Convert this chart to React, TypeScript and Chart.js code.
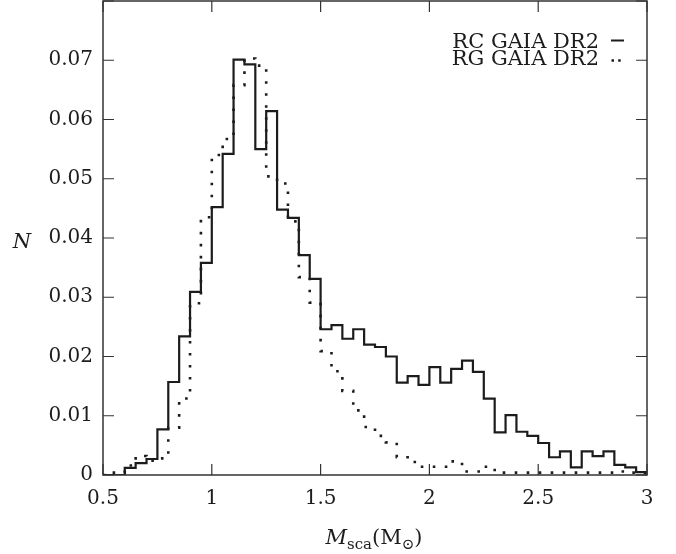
import React, { useEffect, useRef } from "react";
import { Chart, registerables } from "chart.js";

Chart.register(...registerables);

// ---- data ----
const binStart = [
  0.5, 0.55, 0.6, 0.65, 0.7, 0.75, 0.8, 0.85, 0.9, 0.95,
  1.0, 1.05, 1.1, 1.15, 1.2, 1.25, 1.3, 1.35, 1.4, 1.45,
  1.5, 1.55, 1.6, 1.65, 1.7, 1.75, 1.8, 1.85, 1.9, 1.95,
  2.0, 2.05, 2.1, 2.15, 2.2, 2.25, 2.3, 2.35, 2.4, 2.45,
  2.5, 2.55, 2.6, 2.65, 2.7, 2.75, 2.8, 2.85, 2.9, 2.95,
];
const binEnd = 3.0;

const rcValues = [
  0, 0, 0.0012, 0.002, 0.0027, 0.0077, 0.0157, 0.0234, 0.0309, 0.0358,
  0.0452, 0.0542, 0.0701, 0.0693, 0.055, 0.0614, 0.0448, 0.0434, 0.0371, 0.0331,
  0.0246, 0.0253, 0.023, 0.0246, 0.022, 0.0216, 0.02, 0.0156, 0.0167, 0.0152,
  0.0182, 0.0156, 0.0179, 0.0193, 0.0174, 0.0129, 0.0072, 0.0101, 0.0073, 0.0066,
  0.0054, 0.003, 0.004, 0.0013, 0.004, 0.0032, 0.004, 0.0017, 0.0013, 0.0005,
];

const rgValues = [
  0, 0.0004, 0.0016, 0.0032, 0.0024, 0.0028, 0.008, 0.0129, 0.029, 0.0435,
  0.054, 0.0567, 0.0658, 0.0703, 0.0691, 0.0504, 0.0492, 0.0428, 0.0334, 0.0291,
  0.0209, 0.0175, 0.0142, 0.0109, 0.0081, 0.0066, 0.0055, 0.003, 0.0022, 0.0014,
  0.0014, 0.0014, 0.0023, 0.0006, 0.0006, 0.0014, 0.0004, 0.0004, 0.0004, 0.0004,
  0.0004, 0.0004, 0.0004, 0.0004, 0.0004, 0.0004, 0.0004, 0.0006, 0.0004, 0.0003,
];

const seriesLabels = ["RC GAIA DR2", "RG GAIA DR2"];
const xMin = 0.5;
const xMax = 3;
const xStep = 0.5;
const yMin = 0;
const yMax = 0.08;
const yStep = 0.01;
const yTitle = "N";
const xTitleMain = "M";
const xTitleSub = "sca";
const xTitleUnit = "M";
const xTitleUnitSub = "\u2299";

const FONT = "'DejaVu Serif', serif";
const INK = "#1c1c1c";

function toSteps(values: number[]) {
  // point i = (bin start, bin value); with 'before' stepping the horizontal
  // segment at this value runs to the next bin start.
  const pts = binStart.map((x, i) => ({ x, y: values[i] }));
  pts.push({ x: binEnd, y: values[values.length - 1] });
  return pts;
}

const decorPlugin = {
  id: "decor",
  afterDraw(chart: any) {
    const { ctx, chartArea } = chart;
    const { left, right, top, bottom } = chartArea;
    const xs = chart.scales.x;
    const ys = chart.scales.y;
    ctx.save();
    // frame
    ctx.strokeStyle = "#333";
    ctx.lineWidth = 1.5;
    ctx.strokeRect(left, top, right - left, bottom - top);
    // inward ticks
    const tl = 11;
    ctx.lineWidth = 1.2;
    ctx.beginPath();
    xs.ticks.forEach((t: any) => {
      const px = xs.getPixelForValue(t.value);
      ctx.moveTo(px, bottom);
      ctx.lineTo(px, bottom - tl);
      ctx.moveTo(px, top);
      ctx.lineTo(px, top + tl);
    });
    ys.ticks.forEach((t: any) => {
      const py = ys.getPixelForValue(t.value);
      ctx.moveTo(left, py);
      ctx.lineTo(left + tl, py);
      ctx.moveTo(right, py);
      ctx.lineTo(right - tl, py);
    });
    ctx.stroke();

    // legend
    ctx.fillStyle = INK;
    ctx.font = `21px ${FONT}`;
    ctx.textAlign = "right";
    ctx.textBaseline = "alphabetic";
    const legX = 599;
    ctx.fillText(seriesLabels[0], legX, 48);
    ctx.fillText(seriesLabels[1], legX, 65);
    ctx.strokeStyle = INK;
    ctx.lineWidth = 2;
    ctx.beginPath();
    ctx.moveTo(611, 40.5);
    ctx.lineTo(624, 40.5);
    ctx.stroke();
    ctx.lineWidth = 2.5;
    ctx.setLineDash([2.5, 4.2]);
    ctx.beginPath();
    ctx.moveTo(611.5, 60.5);
    ctx.lineTo(624, 60.5);
    ctx.stroke();
    ctx.setLineDash([]);

    // y title
    ctx.textAlign = "center";
    ctx.font = `italic 21px ${FONT}`;
    ctx.fillText(yTitle, 22, 248);

    // x title
    const big = `21px ${FONT}`;
    const bigI = `italic 21px ${FONT}`;
    const small = `15px ${FONT}`;
    const parts = [
      { t: xTitleMain, f: bigI, dy: 0 },
      { t: xTitleSub, f: small, dy: 5 },
      { t: "(" + xTitleUnit, f: big, dy: 0 },
      { t: xTitleUnitSub, f: small, dy: 5 },
      { t: ")", f: big, dy: 0 },
    ];
    let total = 0;
    const widths = parts.map((p) => {
      ctx.font = p.f;
      const w = ctx.measureText(p.t).width;
      total += w;
      return w;
    });
    let cx = 374 - total / 2;
    ctx.textAlign = "left";
    const base = 544;
    parts.forEach((p, i) => {
      ctx.font = p.f;
      ctx.fillText(p.t, cx, base + p.dy);
      cx += widths[i];
    });
    ctx.restore();
  },
};

export default function App() {
  const ref = useRef<HTMLCanvasElement | null>(null);
  useEffect(() => {
    document.body.style.margin = "0";
    const canvas = ref.current;
    if (!canvas) return;
    const chart = new Chart(canvas, {
      type: "line",
      data: {
        datasets: [
          {
            label: seriesLabels[0],
            data: toSteps(rcValues),
            stepped: "before",
            borderColor: INK,
            borderWidth: 2.2,
            pointRadius: 0,
            fill: false,
          },
          {
            label: seriesLabels[1],
            data: toSteps(rgValues),
            stepped: "before",
            borderColor: INK,
            borderWidth: 2.6,
            borderDash: [2.6, 9.4],
            borderCapStyle: "butt",
            pointRadius: 0,
            fill: false,
          },
        ],
      },
      options: {
        responsive: false,
        animation: false,
        devicePixelRatio: 1,
        layout: { padding: { top: 1, right: 29, left: 0, bottom: 0 } },
        plugins: {
          legend: { display: false },
          tooltip: { enabled: false },
        },
        scales: {
          x: {
            type: "linear",
            min: xMin,
            max: xMax,
            grid: { display: false, drawTicks: false },
            border: { display: false },
            ticks: {
              stepSize: xStep,
              padding: 12,
              color: INK,
              font: { family: FONT, size: 20 },
              maxRotation: 0,
              callback: (v: any) => String(Number(v)),
            },
            afterFit: (s: any) => {
              s.height = 79;
              s.paddingLeft = 0;
              s.paddingRight = 0;
            },
          },
          y: {
            type: "linear",
            min: yMin,
            max: yMax,
            grid: { display: false, drawTicks: false },
            border: { display: false },
            ticks: {
              stepSize: yStep,
              padding: 10,
              color: INK,
              font: { family: FONT, size: 20 },
              callback: (v: any) => {
                const n = Number(v);
                if (n > 0.075) return "";
                return n === 0 ? "0" : n.toFixed(2);
              },
            },
            afterFit: (s: any) => {
              s.width = 103;
              s.paddingTop = 0;
              s.paddingBottom = 0;
            },
          },
        },
      },
      plugins: [decorPlugin],
    });
    return () => chart.destroy();
  }, []);
  return (
    <div style={{ width: 676, height: 554, background: "#fff" }}>
      <canvas ref={ref} width={676} height={554} style={{ display: "block" }} />
    </div>
  );
}
